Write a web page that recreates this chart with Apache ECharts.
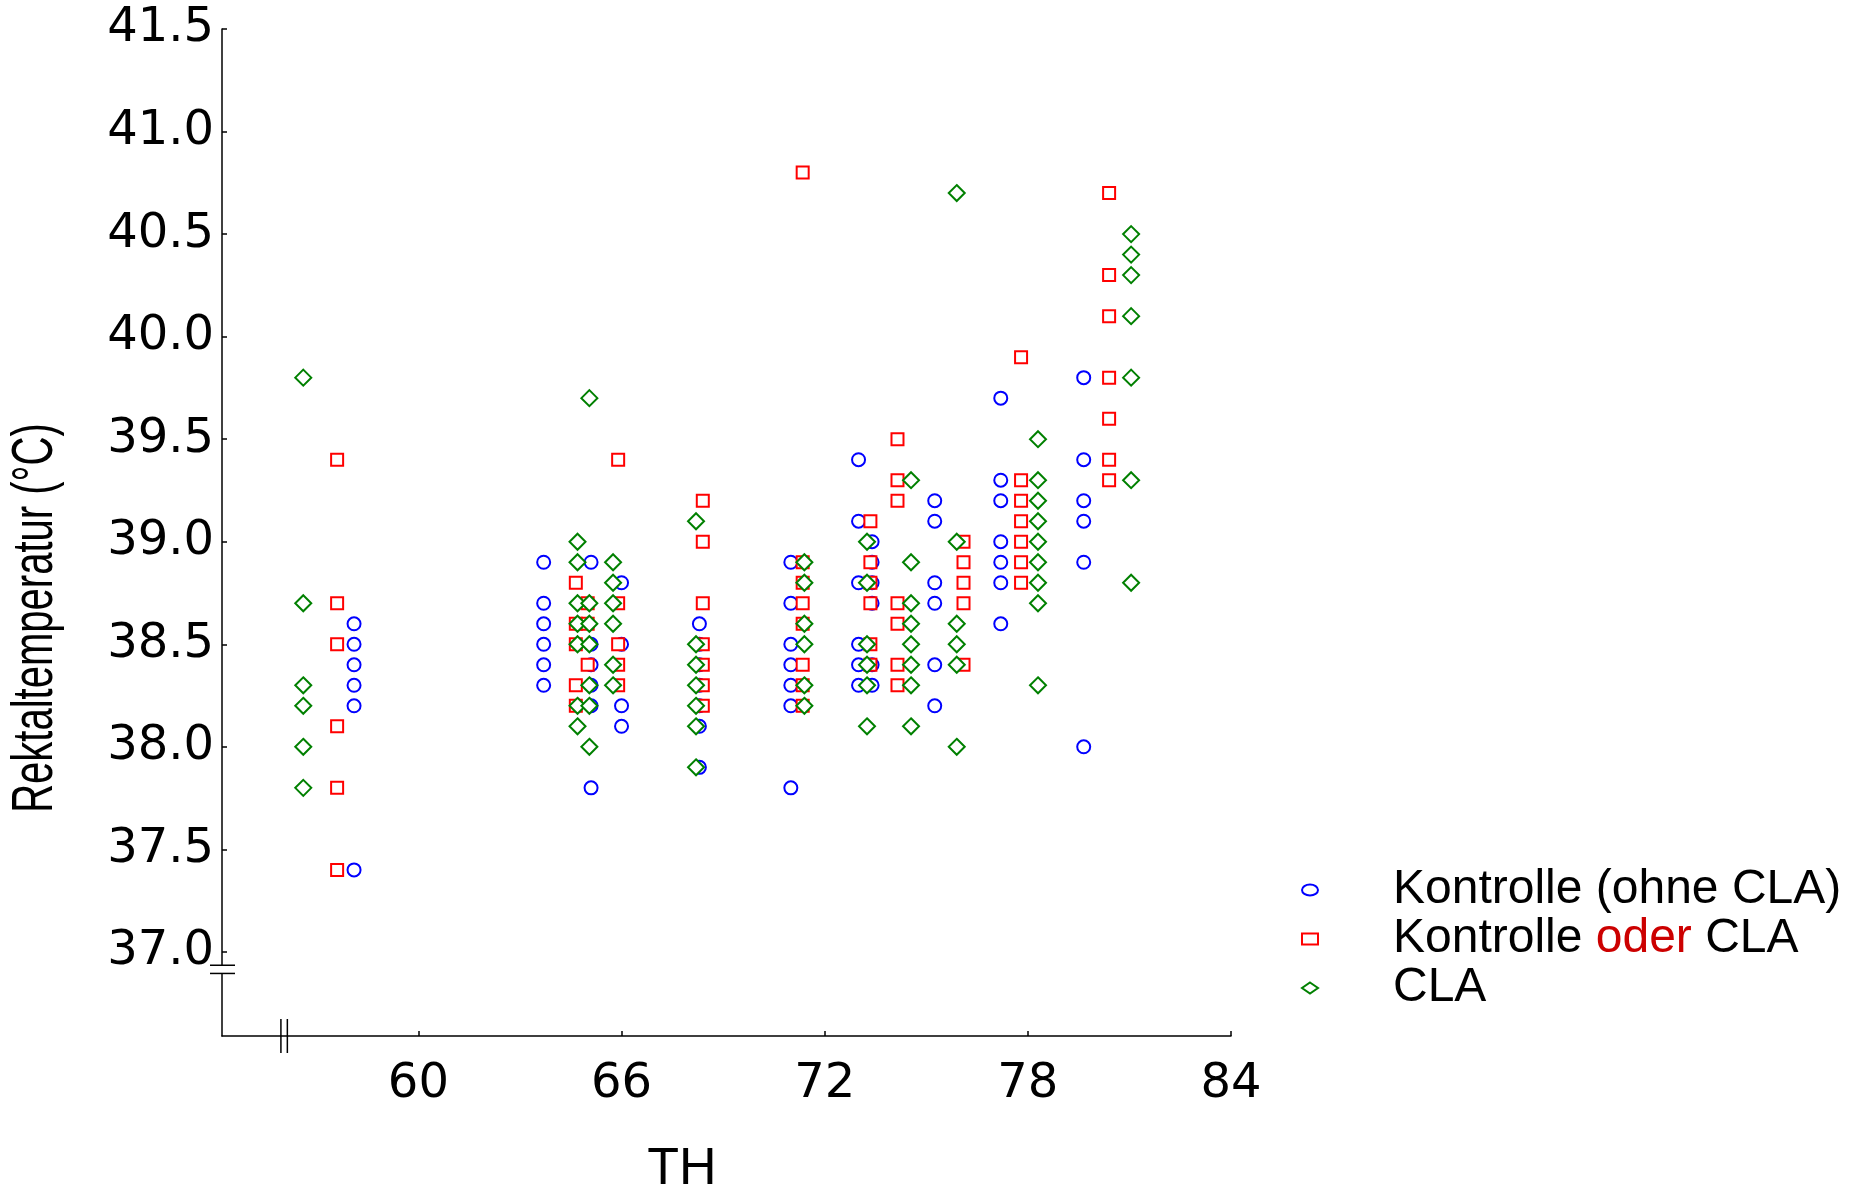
<!DOCTYPE html>
<html>
<head>
<meta charset="utf-8">
<script src="https://cdn.jsdelivr.net/npm/echarts@6/dist/echarts.min.js"></script>
<style>
  html, body { margin: 0; padding: 0; background: #fff; }
  #main { width: 1851px; height: 1189px; }
</style>
</head>
<body>
<div id="main"></div>
<script>
// Tick labels
const thTicks = [60, 66, 72, 78, 84]
const tempTicks = [37.0, 37.5, 38.0, 38.5, 39.0, 39.5, 40.0, 40.5, 41.0, 41.5]

// Kontrolle (ohne CLA) - circles
const ctrlTH = [58.1, 63.7, 65.1, 66.0, 68.3, 71.0, 73.0, 73.4, 75.25, 77.2, 79.65]
const ctrlTemps = [
    [38.6, 38.5, 38.4, 38.3, 38.2, 37.4],
    [38.9, 38.7, 38.6, 38.5, 38.4, 38.3],
    [38.9, 38.5, 38.4, 38.3, 38.2, 37.8],
    [38.8, 38.5, 38.2, 38.1],
    [38.6, 38.5, 38.4, 38.3, 38.2, 38.1, 37.9],
    [38.9, 38.7, 38.5, 38.4, 38.3, 38.2, 37.8],
    [39.4, 39.1, 38.8, 38.5, 38.4, 38.3],
    [39.0, 38.9, 38.8, 38.7, 38.4, 38.3],
    [39.2, 39.1, 38.8, 38.7, 38.4, 38.2],
    [39.7, 39.3, 39.2, 39.0, 38.9, 38.8, 38.6],
    [39.8, 39.4, 39.2, 39.1, 38.9, 38.0]
]

// Kontrolle oder CLA - squares
const oderTH = [57.6, 64.65, 65.0, 65.9, 68.4, 71.35, 73.35, 74.15, 76.1, 77.8, 80.4]
const oderTemps = [
    [39.4, 38.7, 38.5, 38.1, 37.8, 37.4],
    [38.8, 38.6, 38.5, 38.3, 38.2],
    [38.7, 38.6, 38.4],
    [39.4, 38.7, 38.5, 38.4, 38.3],
    [39.2, 39.0, 38.7, 38.5, 38.4, 38.3, 38.2],
    [40.8, 38.9, 38.8, 38.7, 38.6, 38.4, 38.3, 38.2],
    [39.1, 38.9, 38.8, 38.7, 38.5, 38.4],
    [39.5, 39.3, 39.2, 38.7, 38.6, 38.4, 38.3],
    [39.0, 38.9, 38.8, 38.7, 38.4],
    [39.9, 39.3, 39.2, 39.1, 39.0, 38.9, 38.8],
    [40.7, 40.3, 40.1, 39.8, 39.6, 39.4, 39.3]
]

// CLA - diamonds
const claTH = [56.6, 64.7, 65.05, 65.75, 68.2, 71.4, 73.25, 74.55, 75.9, 78.3, 81.05]
const claTemps = [
    [39.8, 38.7, 38.3, 38.2, 38.0, 37.8],
    [39.0, 38.9, 38.7, 38.6, 38.5, 38.2, 38.1],
    [39.7, 38.7, 38.6, 38.5, 38.3, 38.2, 38.0],
    [38.9, 38.8, 38.7, 38.6, 38.4, 38.3],
    [39.1, 38.5, 38.4, 38.3, 38.2, 38.1, 37.9],
    [38.9, 38.8, 38.6, 38.5, 38.3, 38.2],
    [39.0, 38.8, 38.5, 38.4, 38.3, 38.1],
    [39.3, 38.9, 38.7, 38.6, 38.5, 38.4, 38.3, 38.1],
    [40.7, 39.0, 38.6, 38.5, 38.4, 38.0],
    [39.5, 39.3, 39.2, 39.1, 39.0, 38.9, 38.8, 38.7, 38.3],
    [40.5, 40.4, 40.3, 40.1, 39.8, 39.3, 38.8]
]

const toPoints = (ths, temps) => ths.flatMap((th, i) => temps[i].map(t => [th, t]))

const FONT = 'Liberation Sans, Arial, sans-serif'
const TICKFONT = 'DejaVu Sans, sans-serif'
const ellipseIcon = 'path://M16,5.5A8,5.5,0,1,1,0,5.5A8,5.5,0,1,1,16,5.5Z'

const chart = echarts.init(document.getElementById('main'))

const makeSeries = (name, symbol, size, color, data) => ({
    name: name,
    type: 'scatter',
    symbol: symbol,
    symbolSize: size,
    symbolKeepAspect: false,
    data: data,
    itemStyle: { color: '#fff', borderColor: color, borderWidth: 2, opacity: 1 },
    emphasis: { disabled: true }
})

chart.setOption({
    animation: false,
    backgroundColor: '#fff',
    grid: { left: 222, right: 620, top: 29, bottom: 153 },
    xAxis: {
        type: 'value',
        min: 54.2,
        max: 84,
        axisLine: { lineStyle: { color: '#000', width: 1.5 } },
        axisTick: { inside: true, length: 5, customValues: thTicks, lineStyle: { color: '#000', width: 1.5 } },
        axisLabel: { customValues: thTicks, margin: 25, fontSize: 48, fontFamily: TICKFONT, color: '#000' },
        splitLine: { show: false }
    },
    yAxis: {
        type: 'value',
        min: 36.59,
        max: 41.5,
        axisLine: { show: true, lineStyle: { color: '#000', width: 1.5 } },
        axisTick: { show: true, inside: true, length: 5, customValues: tempTicks, lineStyle: { color: '#000', width: 1.5 } },
        axisLabel: {
            customValues: tempTicks,
            margin: 8,
            fontSize: 48,
            fontFamily: TICKFONT,
            color: '#000',
            formatter: v => v.toFixed(1)
        },
        splitLine: { show: false }
    },
    legend: {
        orient: 'vertical',
        left: 1296,
        top: 861,
        itemWidth: 16,
        itemHeight: 11,
        itemGap: 1,
        selectedMode: false,
        itemStyle: { borderWidth: 2 },
        formatter: name => name === 'Kontrolle oder CLA' ? 'Kontrolle {r|oder} CLA' : name,
        textStyle: {
            fontSize: 48,
            fontFamily: FONT,
            color: '#000',
            padding: [0, 0, 0, 70],
            rich: { r: { fontSize: 48, fontFamily: FONT, color: '#cc0000' } }
        },
        data: [
            { name: 'Kontrolle (ohne CLA)', icon: ellipseIcon },
            { name: 'Kontrolle oder CLA', icon: 'rect' },
            { name: 'CLA', icon: 'diamond' }
        ]
    },
    series: [
        makeSeries('Kontrolle (ohne CLA)', 'circle', 13, '#0000ff', toPoints(ctrlTH, ctrlTemps)),
        makeSeries('Kontrolle oder CLA', 'rect', 12, '#ff0000', toPoints(oderTH, oderTemps)),
        makeSeries('CLA', 'diamond', 16, '#008000', toPoints(claTH, claTemps))
    ]
})

// axis titles and axis break marks, placed from the grid's own scales
const px = (x, y) => chart.convertToPixel({ gridIndex: 0 }, [x, y])
const origin = px(54.2, 36.59)
const yb1 = px(54.2, 36.935)[1]
const yb2 = px(54.2, 36.895)[1]
const xb1 = px(55.94, 36.59)[0]
const xb2 = px(56.13, 36.59)[0]
const ax = origin[0]
const ay = origin[1]
const blk = { stroke: '#000', lineWidth: 1.5 }

chart.setOption({
    graphic: [
        {
            type: 'text',
            x: 36, y: 618,
            rotation: Math.PI / 2,
            scaleX: 0.69,
            style: { text: 'Rektaltemperatur (°C)', font: '58px ' + FONT, fill: '#000', align: 'center', verticalAlign: 'middle' }
        },
        {
            type: 'text',
            x: 682, y: 1170,
            style: { text: 'TH', font: '52px ' + FONT, fill: '#000', align: 'center', verticalAlign: 'middle' }
        },
        { type: 'rect', shape: { x: ax - 3, y: yb1, width: 6, height: yb2 - yb1 }, style: { fill: '#fff' }, z: 100 },
        { type: 'line', shape: { x1: ax - 12, y1: yb1, x2: ax + 13, y2: yb1 }, style: blk, z: 101 },
        { type: 'line', shape: { x1: ax - 12, y1: yb2, x2: ax + 13, y2: yb2 }, style: blk, z: 101 },
        { type: 'line', shape: { x1: xb1, y1: ay - 17, x2: xb1, y2: ay + 17 }, style: blk, z: 101 },
        { type: 'line', shape: { x1: xb2, y1: ay - 17, x2: xb2, y2: ay + 17 }, style: blk, z: 101 }
    ]
})
</script>
</body>
</html>
